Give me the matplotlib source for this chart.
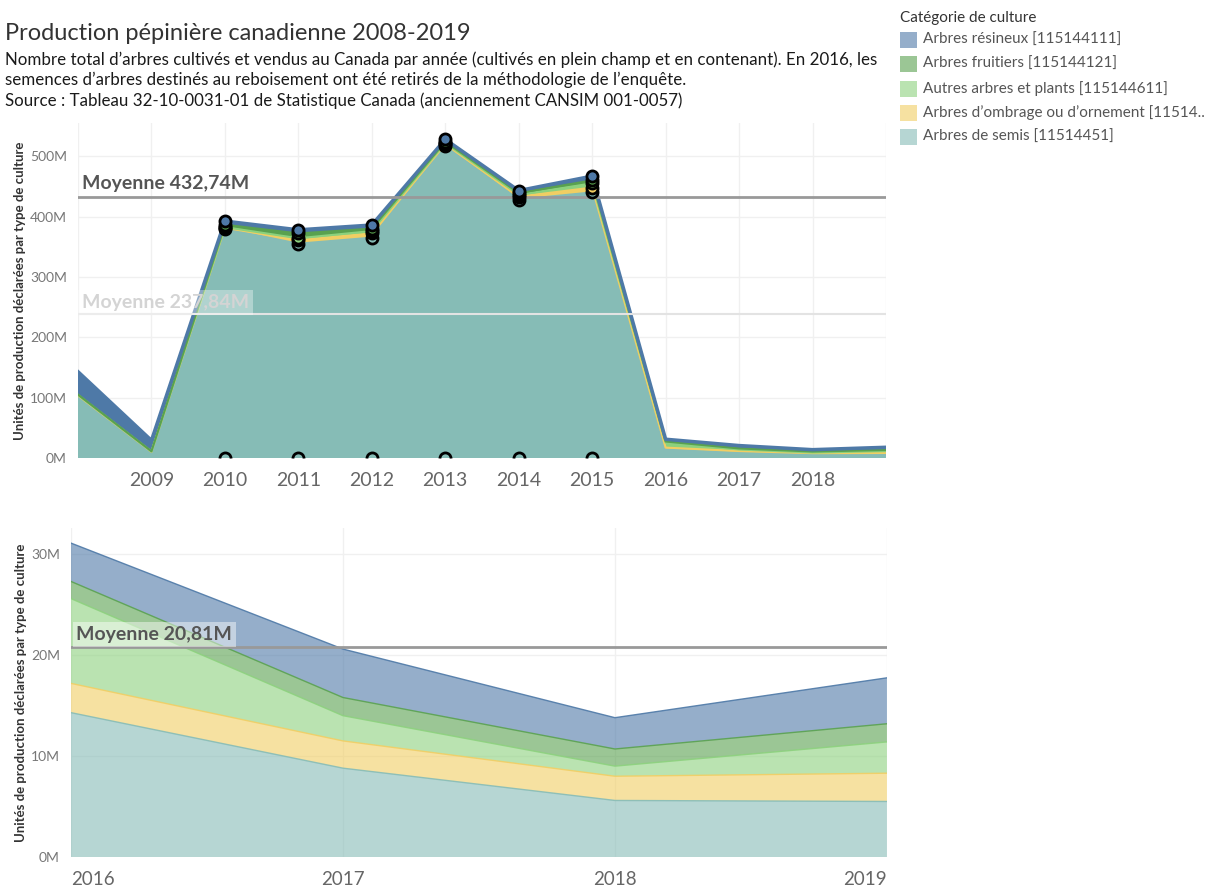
import matplotlib
matplotlib.use("Agg")
import matplotlib.pyplot as plt
from matplotlib.patches import Rectangle
from matplotlib.path import Path
from matplotlib.ticker import FuncFormatter

plt.rcParams['font.family'] = ['Lato', 'DejaVu Sans']

# Données (millions d'unités), empilées de bas en haut
years = [2008, 2009, 2010, 2011, 2012, 2013, 2014, 2015, 2016, 2017, 2018, 2019]
semis = [103, 10, 380, 355, 365, 517, 428, 440, 14.3, 8.8, 5.6, 5.5]
ombrage = [0.5, 0.3, 1.5, 6, 7, 3, 5, 8, 2.9, 2.7, 2.4, 2.8]
autres = [1, 0.5, 1, 3, 4, 2, 3, 7, 8.4, 2.5, 1.0, 3.1]
fruitiers = [0.5, 0.3, 4, 8, 4, 2, 3, 5, 1.7, 1.8, 1.7, 1.8]
resineux = [38, 18, 6, 6, 6, 4, 4, 7, 3.8, 4.8, 3.1, 4.55]

highlight_years = [2010, 2011, 2012, 2013, 2014, 2015]
mean_highlight = 432.74
mean_all = 237.84
mean_recent = 20.81

series_names = ["Arbres de semis [11514451]",
                "Arbres d\u2019ombrage ou d\u2019ornement [11514..",
                "Autres arbres et plants [115144611]",
                "Arbres fruitiers [115144121]",
                "Arbres résineux [115144111]"]
colors = ["#86BCB6", "#F1CE63", "#8CD17D", "#59A14F", "#4E79A7"]
layers = [semis, ombrage, autres, fruitiers, resineux]

fig = plt.figure(figsize=(12.11, 8.9), dpi=100)

def stack_tops(vals_list):
    tops = []
    run = [0] * len(vals_list[0])
    for v in vals_list:
        run = [a + b for a, b in zip(run, v)]
        tops.append(run)
    return tops

fmt = FuncFormatter(lambda v, p: f"{v:.0f}M")

def style_axes(ax):
    for s in ax.spines.values():
        s.set_visible(False)
    ax.grid(True, color="#f0f0f0", lw=1)
    ax.set_axisbelow(True)
    ax.tick_params(length=0, colors="#666666")
    ax.yaxis.set_major_formatter(fmt)
    for lab in ax.get_yticklabels():
        lab.set_fontsize(10)
        lab.set_color("#777777")
    ax.set_ylabel("Unités de production déclarées par type de culture",
                  fontsize=9.5, fontweight="bold", color="#333333", labelpad=3)

# ---- graphique du haut : 2008-2019
ax1 = fig.add_axes([0.0644, 0.4854, 0.6672, 0.3764])
tops = stack_tops(layers)
ax1.stackplot(years, *layers, colors=colors, lw=0, zorder=2)
for t, c in zip(tops, colors):
    ax1.plot(years, t, color=c, lw=2.5 if c == colors[-1] else 1.5, zorder=3)
ax1.set_xlim(2008, 2019)
ax1.set_ylim(0, 555)
ax1.set_xticks(years)
ax1.set_xticklabels(["" if y in (2008, 2019) else str(y) for y in years])
ax1.set_yticks([0, 100, 200, 300, 400, 500])
style_axes(ax1)
ax1.tick_params(axis="x", labelsize=14, pad=10)
ax1.tick_params(axis="y", pad=8)

# marqueurs pour les années mises en évidence (ceux à zéro sont coupés à moitié)
idx = [years.index(y) for y in highlight_years]
half_circle = Path.arc(0, 180)
ax1.plot(highlight_years, [0] * len(idx), ls="none", marker=half_circle, ms=8,
         mfc="none", mec="black", mew=2, zorder=5)
for t, c in zip(tops, colors):
    ax1.plot(highlight_years, [t[i] for i in idx], "o", ms=8, mfc=c,
             mec="black", mew=2, zorder=5, clip_on=False)

ax1.axhline(mean_highlight, color="#999999", lw=2, zorder=4)
ax1.text(2008.05, mean_highlight + 8, f"Moyenne {mean_highlight:.2f}M".replace(".", ","),
         fontsize=14, fontweight="bold", color="#555555", va="bottom", zorder=6)
ax1.axhline(mean_all, color="#e3e3e3", lw=1.5, zorder=4)
ax1.text(2008.05, mean_all + 6, f"Moyenne {mean_all:.2f}M".replace(".", ","),
         fontsize=14, fontweight="bold", color="#d4d4d4", va="bottom", zorder=6,
         bbox=dict(boxstyle="square,pad=0.2", fc="white", ec="none", alpha=0.35))

# ---- graphique du bas : 2016-2019
start = years.index(2016)
yrs2 = years[start:]
layers2 = [l[start:] for l in layers]
tops2 = stack_tops(layers2)
ax2 = fig.add_axes([0.0586, 0.0371, 0.6738, 0.3697])
ax2.stackplot(yrs2, *layers2, colors=colors, alpha=0.6, lw=0, zorder=2)
for t, c in zip(tops2, colors):
    ax2.plot(yrs2, t, color=c, lw=1, alpha=0.9, zorder=3)
ax2.set_xlim(2016, 2019)
ax2.set_ylim(0, 32.6)
ax2.set_xticks(yrs2)
ax2.set_xticklabels([str(y) for y in yrs2])
ax2.set_yticks([0, 10, 20, 30])
style_axes(ax2)
ax2.tick_params(axis="x", labelsize=13.5, pad=10)
ax2.tick_params(axis="y", pad=8)
xl = ax2.get_xticklabels()
xl[0].set_ha("left")
xl[-1].set_ha("right")
ax2.axhline(mean_recent, color="#999999", lw=2, zorder=4)
ax2.text(2016.02, mean_recent + 0.4, f"Moyenne {mean_recent:.2f}M".replace(".", ","),
         fontsize=14, fontweight="bold", color="#555555", va="bottom", zorder=6,
         bbox=dict(boxstyle="square,pad=0.2", fc="white", ec="none", alpha=0.45))

# ---- titres
fig.text(0.004, 0.962, "Production pépinière canadienne 2008-2019",
         fontsize=17, color="#333333", va="center")
sub_lines = [
    "Nombre total d\u2019arbres cultivés et vendus au Canada par année (cultivés en plein champ et en contenant). En 2016, les",
    "semences d\u2019arbres destinés au reboisement ont été retirés de la méthodologie de l\u2019enquête.",
    "Source : Tableau 32-10-0031-01 de Statistique Canada (anciennement CANSIM 001-0057)",
]
for k, line in enumerate(sub_lines):
    fig.text(0.004, 0.933 - k * 0.0232, line, fontsize=12.2, color="#1a1a1a", va="center")

# ---- légende
fig.text(900 / 1211, 1 - 18 / 890, "Catégorie de culture", fontsize=11,
         color="#333333", va="center")
legend_order = list(range(len(series_names)))[::-1]
for k, i in enumerate(legend_order):
    yc = 40 + k * 24.3
    fig.patches.append(Rectangle((900 / 1211, 1 - (yc + 8) / 890), 17 / 1211, 16 / 890,
                                 transform=fig.transFigure, fc=colors[i], alpha=0.6,
                                 ec="none"))
    fig.text(923 / 1211, 1 - yc / 890, series_names[i], fontsize=11,
             color="#555555", va="center")

fig.savefig("out.png", dpi=100)
